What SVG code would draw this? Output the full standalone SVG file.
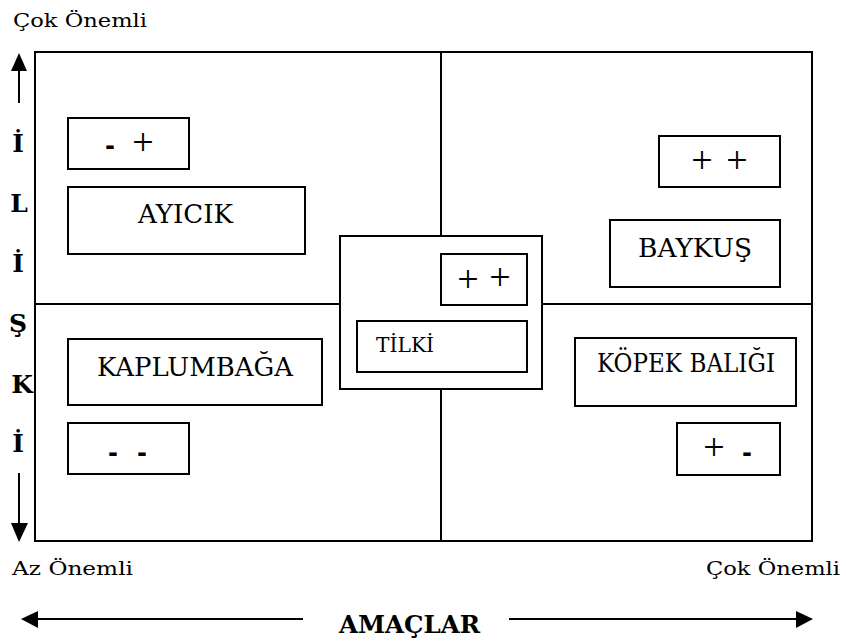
<svg xmlns="http://www.w3.org/2000/svg" width="846" height="641" viewBox="0 0 846 641">
<style>
.bx{fill:#fff;stroke:#000;stroke-width:2}
.ln{stroke:#000;stroke-width:2;fill:none}
.t{font-family:"DejaVu Serif","Liberation Serif",serif;fill:#000}
.s{font-family:"Liberation Serif","Times New Roman",serif;fill:#000}
.lbl{font-size:26px}
.pl{font-size:38px;text-anchor:middle}
.mn{font-family:"DejaVu Sans","Liberation Sans",sans-serif;font-size:24px;font-weight:bold;text-anchor:middle;fill:#000}
.side{font-size:25px;font-weight:bold;text-anchor:middle}
.cap{font-size:18.5px}
.head{fill:#000}
</style>
<rect width="846" height="641" fill="#fff"/>
<g id="frame">
<rect x="35" y="52" width="777" height="489" class="ln"/>
<line x1="441" y1="52" x2="441" y2="541" class="ln"/>
<line x1="35" y1="304" x2="812" y2="304" class="ln"/>
</g>
<g id="axes">
<line x1="19" y1="70" x2="19" y2="103" class="ln"/>
<polygon points="19,53 11,71 27,71" class="head"/>
<line x1="19" y1="473" x2="19" y2="524" class="ln"/>
<polygon points="19,542 11,523 28,523" class="head"/>
<line x1="37" y1="619" x2="303" y2="619" class="ln"/>
<polygon points="21,619 38,611 38,628" class="head"/>
<line x1="509" y1="619" x2="797" y2="619" class="ln"/>
<polygon points="813,619 796,611 796,628" class="head"/>
</g>
<g id="axis-labels">
<text class="t cap" x="13" y="27" textLength="134" lengthAdjust="spacingAndGlyphs">Çok Önemli</text>
<text class="t cap" x="12" y="575" textLength="121" lengthAdjust="spacingAndGlyphs">Az Önemli</text>
<text class="t cap" x="706" y="575" textLength="134" lengthAdjust="spacingAndGlyphs">Çok Önemli</text>
<text class="t" x="339" y="633" font-size="24" font-weight="bold" textLength="141" lengthAdjust="spacingAndGlyphs">AMAÇLAR</text>
<text class="t side" x="18" y="152">İ</text>
<text class="t side" x="19" y="212">L</text>
<text class="t side" x="18" y="272">İ</text>
<text class="t side" x="18" y="332">Ş</text>
<text class="t side" x="22" y="393">K</text>
<text class="t side" x="18" y="452">İ</text>
</g>
<g id="n-eksi-arti">
<rect x="68" y="118" width="121" height="51" class="bx"/>
<text class="mn" x="110" y="153.5">-</text>
<text class="s pl" x="143" y="155">+</text>
</g>
<g id="n-ayicik">
<rect x="68" y="187" width="237" height="67" class="bx"/>
<text class="t lbl" x="138" y="223" textLength="95" lengthAdjust="spacingAndGlyphs">AYICIK</text>
</g>
<g id="n-kaplumbaga">
<rect x="68" y="339" width="254" height="66" class="bx"/>
<text class="t lbl" x="97" y="376" textLength="196" lengthAdjust="spacingAndGlyphs">KAPLUMBAĞA</text>
</g>
<g id="n-eksi-eksi">
<rect x="68" y="423" width="121" height="51" class="bx"/>
<text class="mn" x="113" y="460.5">-</text>
<text class="mn" x="142" y="460.5">-</text>
</g>
<g id="n-baykus-arti">
<rect x="659" y="136" width="121" height="51" class="bx"/>
<text class="s pl" x="702" y="173">+</text>
<text class="s pl" x="737" y="173">+</text>
</g>
<g id="n-baykus">
<rect x="610" y="220" width="170" height="67" class="bx"/>
<text class="t lbl" x="638" y="257" textLength="114" lengthAdjust="spacingAndGlyphs">BAYKUŞ</text>
</g>
<g id="n-kopek">
<rect x="575" y="338" width="221" height="68" class="bx"/>
<text class="t lbl" x="597" y="372" textLength="178" lengthAdjust="spacingAndGlyphs">KÖPEK BALIĞI</text>
</g>
<g id="n-arti-eksi">
<rect x="677" y="423" width="103" height="52" class="bx"/>
<text class="s pl" x="714" y="460">+</text>
<text class="mn" x="747" y="460.5">-</text>
</g>
<g id="n-tilki">
<rect x="340" y="236" width="202" height="153" class="bx"/>
<rect x="441" y="254" width="86" height="51" class="bx"/>
<text class="s pl" x="468" y="292">+</text>
<text class="s pl" x="500" y="290">+</text>
<rect x="357" y="321" width="170" height="51" class="bx"/>
<text class="t" x="376" y="352" font-size="20.5" textLength="58" lengthAdjust="spacingAndGlyphs">TİLKİ</text>
</g>
</svg>
